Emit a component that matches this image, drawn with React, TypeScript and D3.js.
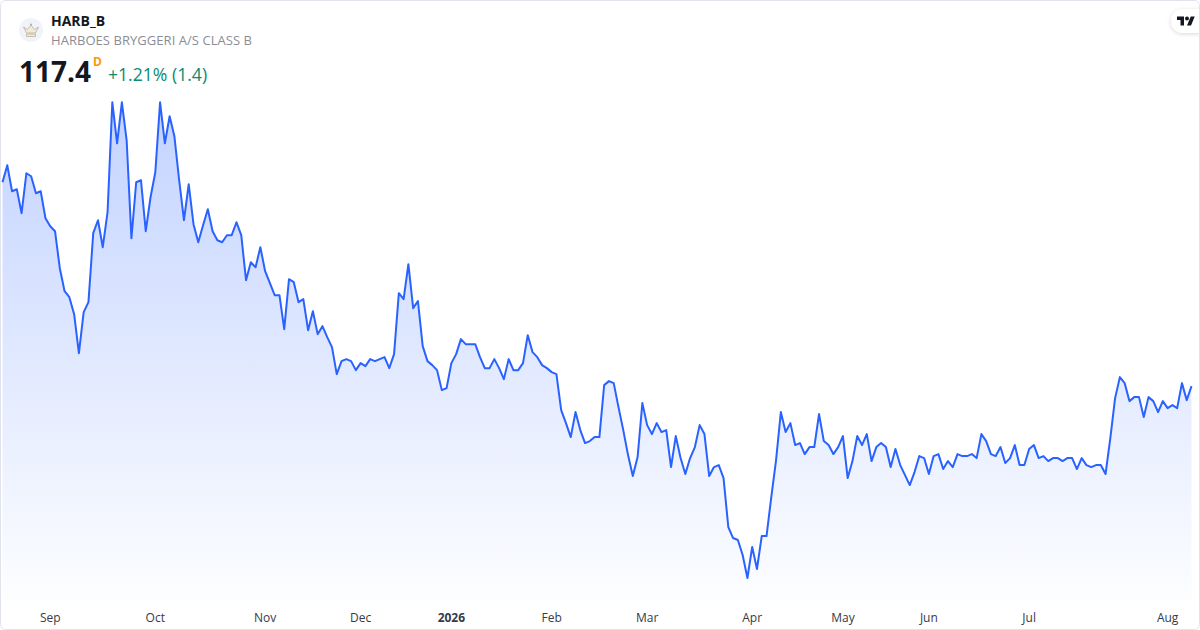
import * as React from 'react';
import * as d3 from 'd3';

const SYMBOL = 'HARB_B';
const COMPANY = 'HARBOES BRYGGERI A/S CLASS B';
const LAST_PRICE = '117.4';
const CHANGE = '+1.21% (1.4)';

// daily closes
const prices: number[] = [
  137.8, 139.5, 136.9, 137.1, 134.7, 138.7, 138.4, 136.7, 136.9, 134.2,
  133.4, 132.9, 129.2, 126.9, 126.3, 124.6, 120.7, 124.8, 125.8, 132.7,
  134.0, 131.3, 134.8, 145.8, 141.7, 145.8, 142.0, 132.2, 137.8, 138.0,
  132.9, 136.3, 138.8, 145.8, 141.7, 144.4, 142.4, 138.0, 134.0, 137.6,
  133.6, 131.8, 133.5, 135.1, 132.9, 132.0, 131.8, 132.5, 132.5, 133.8,
  132.5, 128.0, 129.8, 129.3, 131.3, 128.9, 127.7, 126.5, 126.5, 123.1,
  128.1, 127.8, 125.8, 126.1, 123.0, 124.9, 122.6, 123.4, 122.3, 121.3,
  118.6, 119.9, 120.1, 119.9, 119.0, 119.7, 119.4, 120.1, 119.9, 120.1,
  120.3, 119.2, 120.6, 126.7, 126.1, 129.6, 125.2, 125.9, 121.4, 119.9,
  119.5, 119.0, 117.0, 117.2, 119.7, 120.6, 122.1, 121.6, 121.6, 121.6,
  120.3, 119.2, 119.2, 120.1, 119.2, 118.1, 120.1, 119.0, 119.0, 119.7,
  122.5, 120.8, 120.3, 119.5, 119.2, 118.8, 118.6, 115.0, 113.7, 112.3,
  114.8, 113.0, 111.7, 111.9, 112.3, 112.3, 117.5, 117.9, 117.7, 115.3,
  113.0, 110.5, 108.4, 110.3, 115.7, 113.5, 112.6, 113.7, 112.8, 113.0,
  109.3, 112.4, 110.2, 108.6, 110.2, 111.3, 113.5, 112.6, 108.4, 109.3,
  109.5, 108.2, 103.3, 102.2, 102.0, 100.5, 98.2, 101.3, 99.1, 102.4,
  102.4, 106.3, 110.0, 114.8, 112.8, 113.7, 111.5, 111.7, 110.6, 111.3,
  111.3, 114.6, 111.9, 111.5, 110.6, 111.3, 112.4, 108.2, 109.9, 112.4,
  111.5, 112.6, 109.9, 111.3, 111.7, 111.3, 109.3, 111.1, 109.5, 108.5,
  107.5, 108.8, 110.4, 110.2, 108.6, 110.4, 110.6, 109.1, 109.9, 109.3,
  110.6, 110.4, 110.4, 110.6, 110.2, 112.6, 111.9, 110.6, 110.4, 111.3,
  109.7, 110.2, 111.5, 109.5, 109.5, 111.1, 111.5, 110.2, 110.4, 109.9,
  110.2, 110.2, 109.9, 110.2, 110.2, 109.1, 110.2, 109.5, 109.3, 109.5,
  109.5, 108.6, 112.2, 116.2, 118.3, 117.7, 115.9, 116.3, 116.3, 114.3,
  116.3, 115.9, 114.8, 115.9, 115.2, 115.5, 115.2, 117.7, 116.0, 117.4,
];

const tickLabels = ['Sep', 'Oct', 'Nov', 'Dec', '2026', 'Feb', 'Mar', 'Apr', 'May', 'Jun', 'Jul', 'Aug'];
const tickIndexes = [10, 32, 55, 75, 94, 115, 135, 157, 176, 194, 215, 244];

const WIDTH = 1200;
const HEIGHT = 630;
const FONT = '"Open Sans", "Noto Sans", sans-serif';

export default function App() {
  const x = d3.scaleLinear().domain([0, prices.length - 1]).range([2.5, 1191.5]);
  const [lo, hi] = d3.extent(prices) as [number, number];
  const y = d3.scaleLinear().domain([lo, hi]).range([578, 102.3]);

  const line = d3
    .line<number>()
    .x((_, i) => x(i))
    .y((d) => y(d));
  const area = d3
    .area<number>()
    .x((_, i) => x(i))
    .y0(600)
    .y1((d) => y(d));

  return (
    <svg
      width={WIDTH}
      height={HEIGHT}
      viewBox={`0 0 ${WIDTH} ${HEIGHT}`}
      style={{ position: 'absolute', left: 0, top: 0, display: 'block', fontFamily: FONT }}
    >
      <defs>
        <linearGradient id="fill" gradientUnits="userSpaceOnUse" x1="0" y1={y(hi)} x2="0" y2="600">
          <stop offset="0%" stopColor="#2962FF" stopOpacity={0.28} />
          <stop offset="100%" stopColor="#2962FF" stopOpacity={0.01} />
        </linearGradient>
        <filter id="badge" x="-40%" y="-40%" width="180%" height="180%">
          <feDropShadow dx="0" dy="1" stdDeviation="2" floodColor="#000" floodOpacity="0.16" />
        </filter>
      </defs>

      <rect x={0} y={0} width={WIDTH} height={HEIGHT} fill="#fff" />
      <path d={area(prices) || ''} fill="url(#fill)" />
      <path d={line(prices) || ''} fill="none" stroke="#2962FF" strokeWidth={2} strokeLinejoin="round" />

      {/* month axis */}
      {tickLabels.map((label, i) => (
        <text
          key={label}
          x={x(tickIndexes[i])}
          y={622}
          textAnchor="middle"
          fontSize={12}
          fontWeight={label === '2026' ? 700 : 400}
          fill="#363a45"
        >
          {label}
        </text>
      ))}

      {/* symbol logo */}
      <circle cx={31} cy={30} r={12} fill="#f0f3fa" />
      <g fill="#efeadb" stroke="#b5ab90" strokeWidth={0.7} strokeLinejoin="round">
        <path d="M23.5 27 L26.5 33 H35.5 L38.5 27 L34.5 29.5 L31 25 L27.5 29.5 Z" />
        <path d="M26.5 34 H35.5 V36.5 H26.5 Z" />
      </g>
      <circle cx={31} cy={24.5} r={1} fill="#b5ab90" />

      {/* header */}
      <text x={51} y={26} fontSize={14} fontWeight={700} fill="#131722">{SYMBOL}</text>
      <text x={51} y={45} fontSize={13} fill="#8a8d96" letterSpacing={0.05}>{COMPANY}</text>
      <text x={19} y={82} fontSize={28} fontWeight={700} fill="#131722">{LAST_PRICE}</text>
      <text x={93} y={66} fontSize={12} fontWeight={700} fill="#ff9800">D</text>
      <text x={108} y={81} fontSize={17.6} fill="#0a8a74">{CHANGE}</text>

      {/* logo badge */}
      <path d="M1200 9 H1183 A12 12 0 0 0 1183 33 H1200 Z" fill="#fff" filter="url(#badge)" />
      <g transform="translate(1177 14.5) scale(0.5)" fill="#131722">
        <path d="M14 22H7V11H0V4h14v18zM28 22h-8l7.5-18h8L28 22z" />
        <circle cx="20" cy="8" r="4" />
      </g>

      {/* card border */}
      <rect x={0.5} y={0.5} width={WIDTH - 1} height={HEIGHT - 1} rx={5} fill="none" stroke="#e0e3eb" />
    </svg>
  );
}
